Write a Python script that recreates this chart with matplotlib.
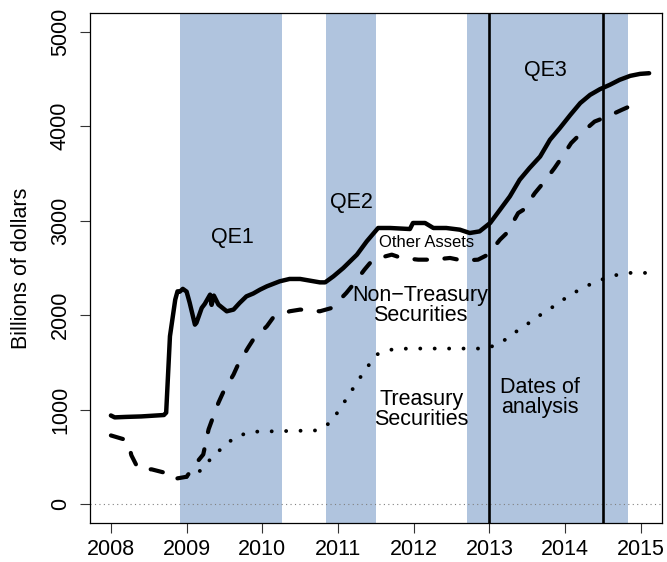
import matplotlib
matplotlib.use("Agg")
import matplotlib.pyplot as plt

plt.rcParams['font.family'] = ['Liberation Sans', 'DejaVu Sans']

# total assets (solid)
total_years = [2008.0, 2008.05, 2008.2, 2008.4, 2008.6, 2008.7, 2008.73, 2008.78, 2008.85,
               2008.88, 2008.91, 2008.95, 2009.0, 2009.04, 2009.11, 2009.13, 2009.2, 2009.24,
               2009.31, 2009.33, 2009.36, 2009.42, 2009.53, 2009.62, 2009.7, 2009.79, 2009.88,
               2009.97, 2010.06, 2010.23, 2010.36, 2010.5, 2010.63, 2010.76, 2010.83, 2010.94,
               2011.07, 2011.25, 2011.38, 2011.53, 2011.69, 2011.95, 2011.99, 2012.15, 2012.26,
               2012.43, 2012.61, 2012.74, 2012.87, 2013.01, 2013.14, 2013.27, 2013.4, 2013.53,
               2013.67, 2013.8, 2013.93, 2014.07, 2014.2, 2014.33, 2014.46, 2014.59, 2014.72,
               2014.86, 2014.99, 2015.11]
total_vals = [940, 920, 925, 930, 940, 945, 970, 1778, 2166,
              2253, 2250, 2279, 2250, 2134, 1901, 1920, 2078, 2120,
              2218, 2110, 2208, 2113, 2042, 2060, 2130, 2200, 2230,
              2271, 2306, 2359, 2384, 2384, 2366, 2348, 2348, 2412,
              2500, 2641, 2782, 2923, 2923, 2912, 2976, 2976, 2923,
              2923, 2905, 2870, 2887, 2976, 3116, 3257, 3433, 3557,
              3679, 3856, 3979, 4120, 4244, 4331, 4391, 4437, 4490,
              4532, 4553, 4560]

# all securities (dashed)
sec_years = [2008.0, 2008.21, 2008.24, 2008.27, 2008.36, 2008.54, 2008.71, 2008.8, 2009.0,
             2009.13, 2009.22, 2009.29, 2009.33, 2009.42, 2009.48, 2009.62, 2009.68, 2009.81,
             2009.88, 2010.06, 2010.14, 2010.36, 2010.5, 2010.76, 2010.92, 2011.11, 2011.2,
             2011.35, 2011.46, 2011.71, 2011.84, 2012.06, 2012.26, 2012.48, 2012.65, 2012.85,
             2012.98, 2013.14, 2013.23, 2013.38, 2013.45, 2013.6, 2013.71, 2013.86, 2013.95,
             2014.08, 2014.19, 2014.39, 2014.56, 2014.75, 2014.9]
sec_vals = [729, 679, 620, 520, 377, 370, 335, 264, 292,
            440, 528, 792, 880, 1074, 1180, 1373, 1479, 1655,
            1743, 1884, 1972, 2042, 2060, 2042, 2078, 2236, 2324,
            2483, 2588, 2641, 2606, 2588, 2588, 2606, 2578, 2588,
            2641, 2800, 2870, 3081, 3116, 3292, 3398, 3557, 3662,
            3821, 3909, 4049, 4102, 4173, 4226]

# treasury securities (dotted)
tsy_years = [2009.0, 2009.19, 2009.32, 2009.48, 2009.64, 2009.85, 2010.71, 2010.9, 2011.02,
             2011.14, 2011.26, 2011.38, 2011.51, 2011.71, 2011.92, 2012.96, 2013.15, 2013.33,
             2013.51, 2013.68, 2013.86, 2014.04, 2014.23, 2014.42, 2014.63, 2014.85, 2015.07]
tsy_vals = [292, 359, 483, 606, 711, 768, 782, 863, 1004,
            1152, 1303, 1444, 1585, 1637, 1648, 1648, 1708, 1814,
            1912, 2007, 2100, 2201, 2289, 2359, 2419, 2448, 2448]

qe_periods = [(2008.91, 2010.26), (2010.84, 2011.5), (2012.71, 2014.83)]
analysis_dates = [2013.0, 2014.5]

x_ticks = [2008, 2009, 2010, 2011, 2012, 2013, 2014, 2015]
y_ticks = [0, 1000, 2000, 3000, 4000, 5000]

shade = "#B0C4DE"


def main():
    fig = plt.figure(figsize=(6.67, 5.62), dpi=100)
    ax = fig.add_axes([0.1345, 0.0689, 0.858, 0.9085])

    for start, end in qe_periods:
        ax.axvspan(start, end, color=shade, lw=0, zorder=0)

    ax.axhline(0, color="gray", lw=0.8, ls=(0, (1, 3)), zorder=1)

    for d in analysis_dates:
        ax.axvline(d, color="black", lw=1.9, zorder=2)

    ax.plot(total_years, total_vals, color="black", lw=3.2,
            solid_capstyle="round", solid_joinstyle="round", zorder=3)
    ax.plot(sec_years, sec_vals, color="black", lw=3.0, ls=(0, (3.0, 4.2)),
            dash_capstyle="round", zorder=3)
    ax.plot(tsy_years, tsy_vals, color="black", lw=2.8, ls=(0, (0.01, 3.7)),
            dash_capstyle="round", zorder=3)

    fs = 15.5
    ax.text(2009.6, 2821, "QE1", fontsize=fs, ha="center", va="center")
    ax.text(2011.18, 3190, "QE2", fontsize=fs, ha="center", va="center")
    ax.text(2013.745, 4585, "QE3", fontsize=fs, ha="center", va="center")
    ax.text(2012.17, 2768, "Other Assets", fontsize=12, ha="center", va="center")
    ax.text(2012.09, 2102, "Non\u2212Treasury\nSecurities", fontsize=fs,
            ha="center", va="center", linespacing=0.95)
    ax.text(2012.1, 1004, "Treasury\nSecurities", fontsize=fs,
            ha="center", va="center", linespacing=0.95)
    ax.text(2013.67, 1130, "Dates of\nanalysis", fontsize=fs,
            ha="center", va="center", linespacing=0.95)

    ax.set_xlim(2007.72, 2015.28)
    ax.set_ylim(-200, 5200)
    ax.set_xticks(x_ticks)
    ax.set_yticks(y_ticks)
    ax.set_xticklabels([str(t) for t in x_ticks], fontsize=fs)
    ax.set_yticklabels([str(t) for t in y_ticks], fontsize=fs, rotation=90, va="center")
    ax.tick_params(axis="both", length=7.5, width=0.8, color="#333333")
    ax.tick_params(axis="x", pad=4)
    ax.tick_params(axis="y", pad=6)
    for s in ax.spines.values():
        s.set_linewidth(0.9)

    ax.set_ylabel("Billions of dollars", fontsize=fs)
    ax.yaxis.set_label_coords(-0.1, 0.5)

    fig.savefig("out.png", dpi=100)


if __name__ == "__main__":
    main()
